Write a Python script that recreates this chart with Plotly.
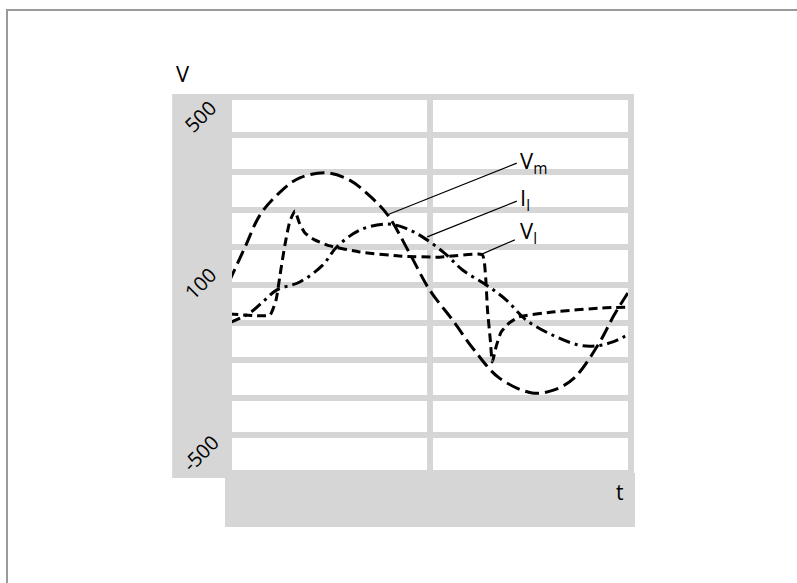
import plotly.graph_objects as go

# ---- data ----
vm_t = [0, 0.4, 0.77, 1.27, 1.76, 2.43, 3.0, 3.5, 3.95, 4.49, 4.99, 5.56, 6.1, 6.72, 7.54, 8.09, 8.59, 9.21, 9.58, 10]
vm_v = [8, 101, 186, 247, 285, 298, 279, 237, 186, 85, -13, -93, -173, -247, -287, -279, -247, -154, -80, -8]

vl_t = [0, 0.77, 1.02, 1.17, 1.27, 1.39, 1.51, 1.64, 1.74, 1.89, 2.13, 2.51, 3.25, 4.24, 5.24, 6.30,
        6.38, 6.43, 6.50, 6.55, 6.65, 6.77, 6.97, 7.22, 8.04, 9.28, 10]
vl_v = [-77, -82, -80, -40, 27, 106, 168, 197, 168, 138, 120, 104, 88, 77, 74, 80,
        27, -66, -146, -205, -162, -125, -101, -85, -72, -61, -59]

il_t = [0, 0.52, 0.89, 1.19, 1.76, 2.33, 2.68, 3.25, 3.92, 4.37, 4.81, 5.36, 5.81, 6.40, 6.90, 7.39, 8.04, 8.71, 9.13, 9.53, 10]
il_v = [-101, -74, -40, -13, 8, 53, 101, 146, 162, 152, 128, 85, 40, 0, -40, -93, -133, -160, -162, -152, -128]

series_names = ["V<sub>m</sub>", "I<sub>l</sub>", "V<sub>l</sub>"]
leader_t0 = [3.93, 4.93, 6.29]
leader_v0 = [186, 128, 82]
leader_t1 = [7.16, 7.16, 7.11]
leader_v1 = [324, 223, 120]
label_t = [7.20, 7.20, 7.20]
label_v = [328, 229, 142]

y_tick_labels = ["500", "100", "-500"]
y_tick_pos = [449, 5, -447]
y_axis_title = "V"
x_axis_title = "t"

GRAY = "#d6d6d6"
FONT = "Open Sans"

fig = go.Figure()

fig.add_trace(go.Scatter(x=vm_t, y=vm_v, mode="lines", line=dict(color="black", width=3, dash="14px,6px", shape="spline", smoothing=1.0), hoverinfo="skip"))
fig.add_trace(go.Scatter(x=il_t, y=il_v, mode="lines", line=dict(color="black", width=3, dash="12px,5px,3px,5px", shape="spline", smoothing=1.0), hoverinfo="skip"))
fig.add_trace(go.Scatter(x=vl_t, y=vl_v, mode="lines", line=dict(color="black", width=3, dash="9px,5px", shape="spline", smoothing=0.5), hoverinfo="skip"))

for i in range(3):
    fig.add_trace(go.Scatter(x=[leader_t0[i], leader_t1[i]], y=[leader_v0[i], leader_v1[i]], mode="lines",
                             line=dict(color="black", width=1.2), hoverinfo="skip"))
    fig.add_annotation(x=label_t[i], y=label_v[i], xref="x", yref="y", text=series_names[i], showarrow=False,
                       xanchor="left", yanchor="middle", font=dict(family=FONT, size=22, color="black"))

for lab, pos in zip(y_tick_labels, y_tick_pos):
    fig.add_annotation(x=-0.0721, y=pos, xref="paper", yref="y", text=lab, showarrow=False, textangle=-45,
                       xanchor="center", yanchor="middle", font=dict(family=FONT, size=20, color="black"))

fig.add_annotation(x=-0.114, y=1.065, xref="paper", yref="paper", text=y_axis_title, showarrow=False,
                   xanchor="center", yanchor="middle", font=dict(family=FONT, size=22, color="black"))
fig.add_annotation(x=0.973, y=-0.05, xref="paper", yref="paper", text=x_axis_title, showarrow=False,
                   xanchor="center", yanchor="middle", font=dict(family=FONT, size=21, color="black"))

shapes = [
    # outer figure border (top & left visible)
    dict(type="rect", xref="paper", yref="paper", x0=-0.5522, x1=1.5, y0=-0.4, y1=1.2314,
         line=dict(color="#9a9a9a", width=2), fillcolor="rgba(0,0,0,0)", layer="below"),
    # left gray band
    dict(type="rect", xref="paper", yref="paper", x0=-0.1414, x1=0.0, y0=-0.0133, y1=1.008,
         line=dict(width=0), fillcolor=GRAY, layer="below"),
    # bottom gray band
    dict(type="rect", xref="paper", yref="paper", x0=-0.0099, x1=1.0099, y0=-0.1436, y1=0.0,
         line=dict(width=0), fillcolor=GRAY, layer="below"),
    # plot frame
    dict(type="rect", xref="paper", yref="paper", x0=0, x1=1, y0=0, y1=1,
         line=dict(color=GRAY, width=6), fillcolor="rgba(0,0,0,0)", layer="above"),
]

fig.update_layout(
    width=797, height=583,
    margin=dict(l=229, r=166, t=97, b=110),
    paper_bgcolor="white", plot_bgcolor="white",
    showlegend=False,
    shapes=shapes,
    xaxis=dict(range=[0, 10], dtick=5, tick0=0, showgrid=True, gridcolor=GRAY, gridwidth=6,
               zeroline=False, showticklabels=False, ticks="", showline=False),
    yaxis=dict(range=[-500, 500], dtick=100, tick0=0, showgrid=True, gridcolor=GRAY, gridwidth=6,
               zeroline=False, showticklabels=False, ticks="", showline=False),
)

fig.write_html("out.html")
